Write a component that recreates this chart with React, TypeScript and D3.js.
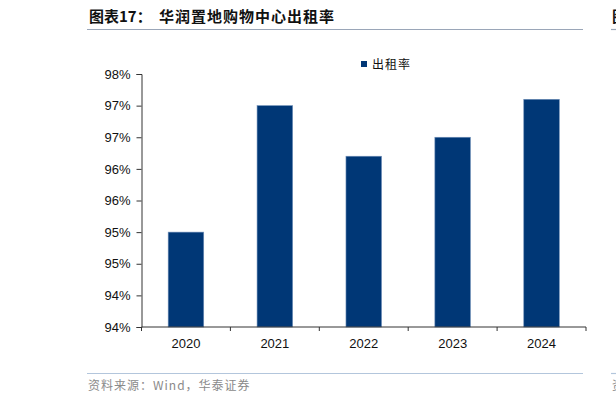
import { useEffect, useRef } from 'react';
import * as d3 from 'd3';

const years = ['2020', '2021', '2022', '2023', '2024'];
const occupancy = [95.5, 97.5, 96.7, 97.0, 97.6];
const yTicks = [94, 94.5, 95, 95.5, 96, 96.5, 97, 97.5, 98];
const yTickLabels = ['94%', '94%', '95%', '95%', '96%', '96%', '97%', '97%', '98%'];
const seriesName = '出租率';
const titlePrefix = '图表17：';
const titleText = '华润置地购物中心出租率';
const sourceText = '资料来源：Wind，华泰证券';

const W = 616;
const H = 403;
const BAR = '#003776';

const App = () => {
  const svgRef = useRef<SVGSVGElement | null>(null);

  useEffect(() => {
    if (!svgRef.current) return;
    const svg = d3.select(svgRef.current);
    svg.selectAll('*').remove();

    const left = 141.5;
    const right = 586;
    const top = 74;
    const bottom = 327;

    const x = d3.scaleBand<string>()
      .domain(years)
      .range([left, right])
      .paddingInner(0.6)
      .paddingOuter(0.3);

    const y = d3.scaleLinear()
      .domain([94, 98])
      .range([bottom, top]);

    // header
    svg.append('text')
      .attr('x', 89)
      .attr('y', 22)
      .style('font-family', '"Noto Sans CJK SC", sans-serif')
      .style('font-size', '15px')
      .style('font-weight', 'bold')
      .attr('fill', '#111')
      .text(titlePrefix);
    svg.append('text')
      .attr('x', 159)
      .attr('y', 22)
      .style('font-family', '"Noto Sans CJK SC", sans-serif')
      .style('font-size', '15px')
      .style('font-weight', 'bold')
      .style('letter-spacing', '1px')
      .attr('fill', '#111')
      .text(titleText);
    svg.append('line')
      .attr('x1', 87).attr('x2', 583)
      .attr('y1', 29.5).attr('y2', 29.5)
      .attr('stroke', '#9aa6b8').attr('stroke-width', 1.2);

    // bars
    svg.append('g')
      .selectAll('rect')
      .data(occupancy)
      .enter()
      .append('rect')
      .attr('x', (_, i) => x(years[i]) as number)
      .attr('y', d => y(d))
      .attr('width', x.bandwidth())
      .attr('height', d => bottom - y(d))
      .attr('fill', BAR)
      .attr('stroke', '#6f8fb8')
      .attr('stroke-width', 0.6);

    // y axis
    const yAxis = svg.append('g')
      .attr('transform', `translate(${left},0)`)
      .call(
        d3.axisLeft(y)
          .tickValues(yTicks)
          .tickSize(5)
          .tickPadding(6)
          .tickFormat((_, i) => yTickLabels[i])
      );
    yAxis.select('.domain').attr('stroke', '#333');
    yAxis.selectAll('.tick line').attr('stroke', '#333');
    yAxis.selectAll('.tick text')
      .style('font-family', '"Liberation Sans", Arial, sans-serif')
      .style('font-size', '13px')
      .attr('fill', '#111');

    // x axis
    const step = x.step();
    const gap = step - x.bandwidth();
    const xa = svg.append('g');
    xa.append('line')
      .attr('x1', left).attr('x2', right)
      .attr('y1', bottom).attr('y2', bottom)
      .attr('stroke', '#333');
    const bounds = years.map(d => (x(d) as number) - gap / 2).concat([right]);
    xa.selectAll('line.tk')
      .data(bounds)
      .enter()
      .append('line')
      .attr('class', 'tk')
      .attr('x1', d => d).attr('x2', d => d)
      .attr('y1', bottom).attr('y2', bottom + 4)
      .attr('stroke', '#333');
    xa.selectAll('text')
      .data(years)
      .enter()
      .append('text')
      .attr('x', d => (x(d) as number) + x.bandwidth() / 2)
      .attr('y', bottom + 21)
      .attr('text-anchor', 'middle')
      .style('font-family', '"Liberation Sans", Arial, sans-serif')
      .style('font-size', '13px')
      .attr('fill', '#111')
      .text(d => d);

    // legend
    const lg = svg.append('g').attr('transform', 'translate(361,61)');
    lg.append('rect')
      .attr('width', 6).attr('height', 6)
      .attr('fill', BAR);
    lg.append('text')
      .attr('x', 11)
      .attr('y', 7.5)
      .style('font-family', '"Noto Sans CJK SC", sans-serif')
      .style('font-size', '12px')
      .style('letter-spacing', '1px')
      .attr('fill', '#111')
      .text(seriesName);

    // footer
    svg.append('line')
      .attr('x1', 87).attr('x2', 583)
      .attr('y1', 373.5).attr('y2', 373.5)
      .attr('stroke', '#b3c6dc').attr('stroke-width', 1.2);
    svg.append('text')
      .attr('x', 88)
      .attr('y', 390)
      .style('font-family', '"Noto Sans CJK SC", sans-serif')
      .style('font-size', '12px')
      .style('letter-spacing', '1px')
      .attr('fill', '#8a8a8a')
      .text(sourceText);

    // edge of the next panel
    svg.append('line')
      .attr('x1', 611).attr('x2', W)
      .attr('y1', 29.5).attr('y2', 29.5)
      .attr('stroke', '#9aa6b8').attr('stroke-width', 1.2);
    svg.append('line')
      .attr('x1', 611).attr('x2', W)
      .attr('y1', 373.5).attr('y2', 373.5)
      .attr('stroke', '#b3c6dc').attr('stroke-width', 1.2);
    svg.append('text')
      .attr('x', 612).attr('y', 22)
      .style('font-family', '"Noto Sans CJK SC", sans-serif')
      .style('font-size', '15px')
      .style('font-weight', 'bold')
      .attr('fill', '#111')
      .text('图');
    svg.append('text')
      .attr('x', 612).attr('y', 390)
      .style('font-family', '"Noto Sans CJK SC", sans-serif')
      .style('font-size', '12px')
      .attr('fill', '#8a8a8a')
      .text('资');
  }, []);

  return (
    <div style={{ position: 'absolute', left: 0, top: 0, background: '#fff' }}>
      <svg ref={svgRef} width={W} height={H} style={{ display: 'block' }} />
    </div>
  );
};

export default App;
